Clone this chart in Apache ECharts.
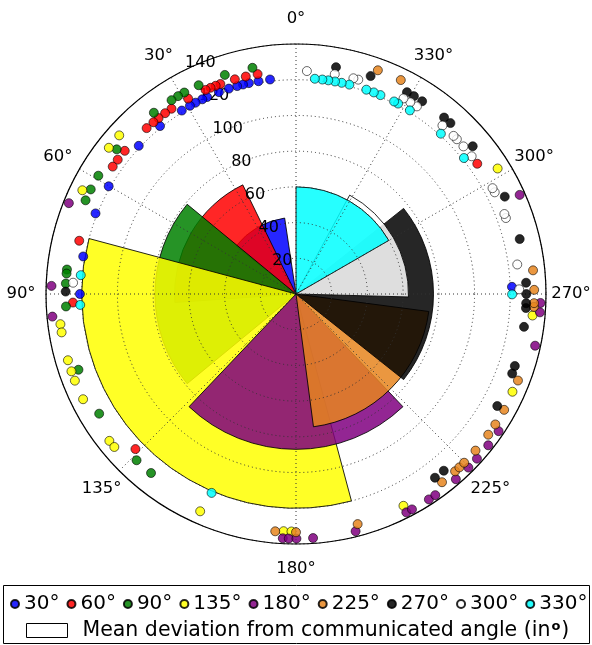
<!DOCTYPE html>
<html><head><meta charset="utf-8">
<script src="https://cdn.jsdelivr.net/npm/echarts@6/dist/echarts.min.js"></script>
<style>html,body{margin:0;padding:0;background:#fff;}#c{width:592px;height:645px;}</style>
</head><body><div id="c"></div>
<script>
// ---- data ----
const categories = [30, 60, 90, 135, 180, 225, 270, 300, 330];
const seriesNames = ['30°', '60°', '90°', '135°', '180°', '225°', '270°', '300°', '330°'];
const colors = ['#0000ff', '#ff0000', '#008000', '#ffff00', '#800080', '#e6851e', '#000000', '#ffffff', '#00ffff'];
const meanDeviation = [43, 68, 79, 120, 87, 75, 77, 63, 60];
const dotRadius = [121, 125, 129, 133, 137, 133.4, 129, 125, 121];
const responses30 = [6.9, 10.0, 12.6, 14.2, 15.8, 18.1, 20.9, 24.3, 25.7, 27.7, 29.4, 31.9, 39.0, 46.7, 60.1, 68.1, 80.0, 90.0, 271.9];
const responses60 = [9.9, 13.0, 15.9, 19.8, 21.1, 22.5, 23.9, 28.9, 33.9, 35.9, 38.0, 39.7, 42.0, 50.1, 53.0, 55.2, 76.2, 92.2, 134.0, 305.7];
const responses90 = [10.9, 18.0, 25.0, 29.0, 30.8, 32.7, 38.1, 51.1, 59.1, 63.0, 66.0, 83.9, 84.9, 87.4, 93.1, 109.2, 121.3, 136.2, 141.0];
const responses135 = [48.1, 52.0, 64.1, 97.3, 99.3, 106.2, 109.0, 111.4, 116.3, 128.2, 130.1, 156.2, 177.0, 178.9, 206.9, 245.7, 264.8, 301.9];
const responses180 = [68.2, 88.1, 95.3, 176.9, 178.3, 180.1, 184.0, 194.1, 206.8, 208.3, 212.9, 214.7, 220.8, 224.8, 227.7, 231.8, 235.9, 257.8, 265.7, 267.9, 293.9];
const responses225 = [175.0, 180.0, 195.0, 217.8, 221.9, 223.3, 224.9, 228.9, 233.8, 236.8, 240.9, 248.7, 266.9, 267.8, 271.0, 275.7, 333.9, 339.9];
const responses270 = [89.4, 217.1, 219.9, 240.9, 249.8, 251.8, 261.8, 266.5, 267.7, 270.0, 272.8, 283.8, 295.0, 309.9, 317.9, 320.0, 326.8, 329.2, 331.2, 341.1, 350.0];
const responses300 = [87.1, 271.2, 277.6, 289.9, 291.0, 297.1, 298.3, 308.1, 311.4, 313.9, 315.1, 319.0, 327.2, 329.2, 331.2, 343.8, 345.1, 350.0, 357.2];
const responses330 = [85.0, 92.9, 157.0, 269.9, 309.0, 317.9, 328.2, 331.8, 333.0, 337.0, 338.9, 341.0, 345.7, 347.8, 349.6, 351.4, 353.0, 355.0];
const thetaTicks = [0, 30, 60, 90, 135, 180, 225, 270, 300, 330];
const radialTicks = [20, 40, 60, 80, 100, 120, 140];
const barLegendName = 'Mean deviation from communicated angle (in °)';
// --------------

const responses = [responses30, responses60, responses90, responses135, responses180,
                   responses225, responses270, responses300, responses330];
const FONT = 'DejaVu Sans';
const dotted = { color: '#333', width: 1, type: [1, 3] };

const chart = echarts.init(document.getElementById('c'), null, { renderer: 'canvas' });

const dotSeries = categories.map((c, i) => ({
  type: 'scatter', name: seriesNames[i], coordinateSystem: 'polar', z: 4, clip: false,
  symbol: 'circle', symbolSize: 9, silent: true,
  data: responses[i].map(t => [dotRadius[i], t]),
  itemStyle: { color: colors[i], borderColor: '#000', borderWidth: 0.7, opacity: 0.85 }
}));

const option = {
  animation: false,
  backgroundColor: '#fff',
  polar: { center: [296, 294], radius: 250 },
  angleAxis: {
    type: 'value', min: 0, max: 360, startAngle: 90, clockwise: false, z: 3,
    axisLine: { show: true, lineStyle: { color: '#000', width: 1.2 } },
    axisTick: { show: false, customValues: thetaTicks },
    axisLabel: { show: false, customValues: thetaTicks },
    splitLine: { show: true, lineStyle: dotted }
  },
  radiusAxis: {
    type: 'value', min: 0, max: 140, interval: 20, z: 3,
    axisLine: { show: false }, axisTick: { show: false }, axisLabel: { show: false },
    splitLine: { show: true, lineStyle: dotted }
  },
  legend: [
    {
      data: seriesNames.map(n => ({ name: n, icon: 'circle' })),
      left: 10, top: 594, width: 590, padding: 0, orient: 'horizontal',
      itemWidth: 8, itemHeight: 8, itemGap: 7, selectedMode: false,
      textStyle: { fontSize: 20, fontFamily: FONT, color: '#000' }
    },
    {
      data: [{ name: barLegendName, icon: 'rect',
               itemStyle: { color: '#fff', borderColor: '#000', borderWidth: 1 } }],
      left: 26, top: 620, padding: 0, itemWidth: 41, itemHeight: 14, selectedMode: false,
      formatter: () => 'Mean deviation from communicated angle (in{s|o})',
      textStyle: {
        fontSize: 20.5, fontFamily: FONT, color: '#000', padding: [0, 0, 0, 10],
        rich: { s: { fontSize: 13, fontWeight: 'bold', fontFamily: FONT, color: '#000', verticalAlign: 'top', lineHeight: 12, padding: [0, 1, 0, 1] } }
      }
    }
  ],
  graphic: [{
    type: 'rect', shape: { x: 3.5, y: 585.5, width: 586, height: 58 },
    style: { fill: 'none', stroke: '#000', lineWidth: 1 }, z: 10
  }],
  series: [
    {
      type: 'custom', name: barLegendName, coordinateSystem: 'polar', z: 2,
      itemStyle: { color: '#fff', borderColor: '#000', borderWidth: 1 },
      data: categories.map((c, i) => [c, meanDeviation[i], i]),
      renderItem: function (params, api) {
        const a = api.value(0), w = api.value(1), idx = api.value(2);
        const p0 = api.coord([0, a]);
        const p1 = api.coord([w, a + w / 2]);
        const p2 = api.coord([w, a - w / 2]);
        const cx = p0[0], cy = p0[1];
        const r = Math.hypot(p1[0] - cx, p1[1] - cy);
        let s = Math.atan2(p1[1] - cy, p1[0] - cx);
        let e = Math.atan2(p2[1] - cy, p2[0] - cx);
        if (e < s) e += 2 * Math.PI;
        return {
          type: 'sector',
          shape: { cx: cx, cy: cy, r0: 0, r: r, startAngle: s, endAngle: e, clockwise: true },
          style: { fill: colors[idx], stroke: '#000', lineWidth: 1, opacity: 0.85 }
        };
      }
    },
    {
      type: 'scatter', coordinateSystem: 'polar', z: 3, clip: false, silent: true,
      symbolSize: 1, itemStyle: { color: 'transparent' },
      data: radialTicks.map(r => [r, 22.5]),
      label: { show: true, position: 'inside', formatter: p => String(p.value[0]),
               color: '#000', fontSize: 16, fontFamily: FONT, textBorderWidth: 0, opacity: 1 }
    },
    {
      type: 'scatter', coordinateSystem: 'polar', z: 5, clip: false, silent: true,
      symbolSize: 1, itemStyle: { color: 'transparent' },
      data: thetaTicks.map(t => [154, t]),
      label: { show: true, position: 'inside', formatter: p => p.value[1] + '°',
               color: '#000', fontSize: 16.5, fontFamily: FONT, textBorderWidth: 0, opacity: 1 }
    }
  ].concat(dotSeries)
};
chart.setOption(option);
</script>
</body></html>
